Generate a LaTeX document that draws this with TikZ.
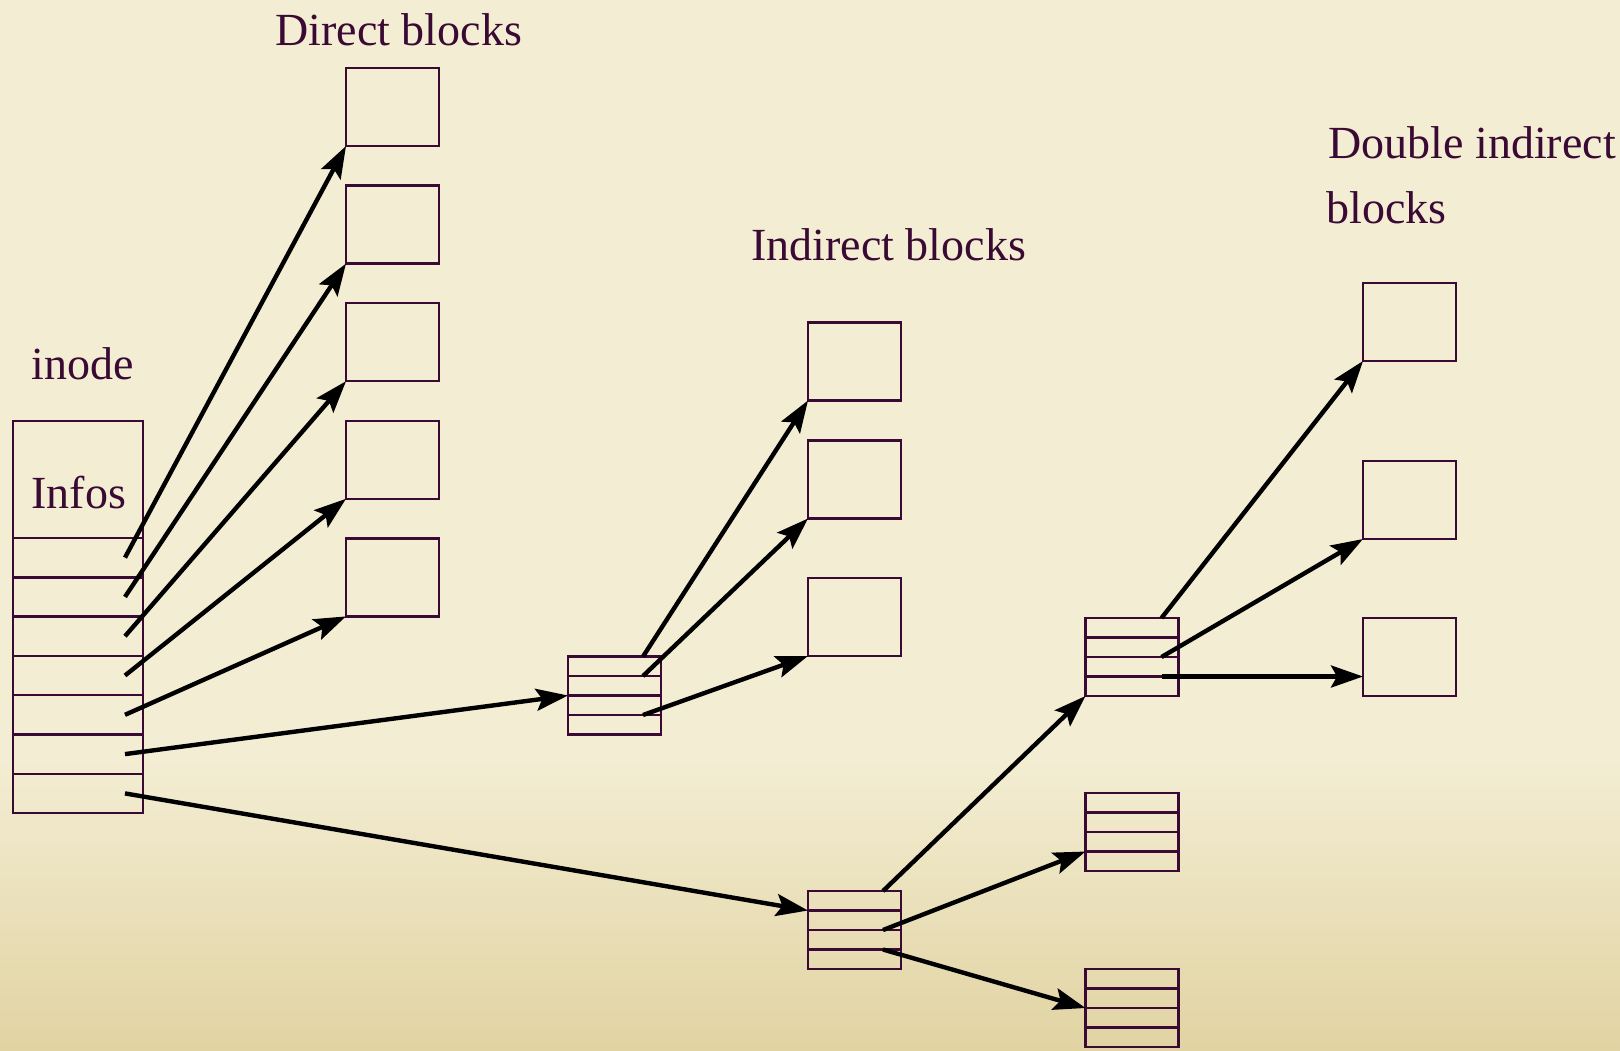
\documentclass[tikz,border=0pt]{standalone}
\usepackage{fontspec}
\setmainfont{Liberation Serif}
\usepackage{tikz}
\usetikzlibrary{arrows.meta,calc}

\definecolor{paper}{RGB}{243,237,211}
\definecolor{paperdark}{RGB}{225,211,162}
\definecolor{plum}{RGB}{58,10,52}

\begin{document}
\begin{tikzpicture}[x=0.5pt,y=-0.5pt,
		blk/.style={draw=plum,line width=1.2pt,minimum width=46.5pt,minimum height=39pt,inner sep=0pt,outer sep=0pt},
		rowline/.style={draw=plum,line width=1.2pt},
		ptr/.style={line width=2.2pt,-{Stealth[length=16pt,width=11pt,inset=3pt]}},
		lbl/.style={text=plum,font=\fontsize{23}{28}\selectfont,inner sep=0pt,anchor=base west}]
				\fill[paper] (0,0) rectangle (1620,1050);
				\shade[top color=paper,bottom color=paperdark] (0,760) rectangle (1620,1050);
				\useasboundingbox (0,0) rectangle (1620,1050);
				
				\node[lbl] (ldir) at (275,45) {Direct blocks};
				\node[lbl] (lind) at (751,260) {Indirect blocks};
				\node[lbl] (ldbl) at (1328,158) {Double indirect};
				\node[lbl] (ldbl2) at (1326,223) {blocks};
				\node[lbl] (lino) at (31,379) {inode};
				
				\node[blk,minimum width=65pt,minimum height=196pt] (ino) at (78,617) {};
				\node[lbl] (linf) at (31,508) {Infos};
				\foreach \k in {0,...,6}
					\draw[rowline] ($(ino.north west)+(0,117+39.3*\k)$) -- ++(130,0);
				
				\foreach \k in {1,...,5}
					\node[blk] (d\k) at (392.5,{107+117.6*(\k-1)}) {};
				
				\node[blk] (i1) at (854.5,361.5) {};
				\node[blk] (i2) at (854.5,479.5) {};
				\node[blk] (i3) at (854.5,617) {};
				
				\node[blk] (e1) at (1409.5,322) {};
				\node[blk] (e2) at (1409.5,500) {};
				\node[blk] (e3) at (1409.5,657) {};
				
				\node[blk] (s1) at (614.5,695.5) {};
				\node[blk] (t0) at (854.5,930) {};
				\node[blk] (ta) at (1132,657) {};
				\node[blk] (tb) at (1132,832) {};
				\node[blk] (tc) at (1132,1008) {};
				\foreach \b in {s1,t0,ta,tb,tc}
					\foreach \k in {1,2,3}
						\draw[rowline] ($(\b.north west)!\k/4!(\b.south west)$) -- ($(\b.north east)!\k/4!(\b.south east)$);
				
				\foreach \k in {1,...,7}
					\coordinate (p\k) at ($(ino.north west)+(112,{136.6+39.3*(\k-1)})$);
				\foreach \k in {1,...,5}
					\draw[ptr] (p\k) -- (d\k.south west);
				\draw[ptr] (p6) -- (s1.west);
				\draw[ptr] (p7) -- ($(t0.north west)!.25!(t0.south west)$);
				
				\coordinate (q1) at ($(s1.north west)+(75,0)$);
				\coordinate (q2) at ($(s1.north west)!.25!(s1.south west)+(75,0)$);
				\coordinate (q3) at ($(s1.north west)!.75!(s1.south west)+(75,0)$);
				\draw[ptr] (q1) -- (i1.south west);
				\draw[ptr] (q2) -- (i2.south west);
				\draw[ptr] (q3) -- (i3.south west);
				
				\coordinate (r1) at ($(t0.north west)+(75,0)$);
				\coordinate (r2) at ($(t0.north west)!.5!(t0.south west)+(75,0)$);
				\coordinate (r3) at ($(t0.north west)!.75!(t0.south west)+(75,0)$);
				\draw[ptr] (r1) -- (ta.south west);
				\draw[ptr] (r2) -- ($(tb.north west)!.75!(tb.south west)$);
				\draw[ptr] (r3) -- (tc.west);
				
				\coordinate (u1) at ($(ta.north west)+(76,0)$);
				\coordinate (u2) at ($(ta.north west)!.5!(ta.south west)+(76,0)$);
				\coordinate (u3) at ($(ta.north west)!.75!(ta.south west)+(76,0)$);
				\draw[ptr] (u1) -- (e1.south west);
				\draw[ptr] (u2) -- (e2.south west);
				\draw[ptr] (u3) -- (u3 -| e3.west);
\end{tikzpicture}
\end{document}
